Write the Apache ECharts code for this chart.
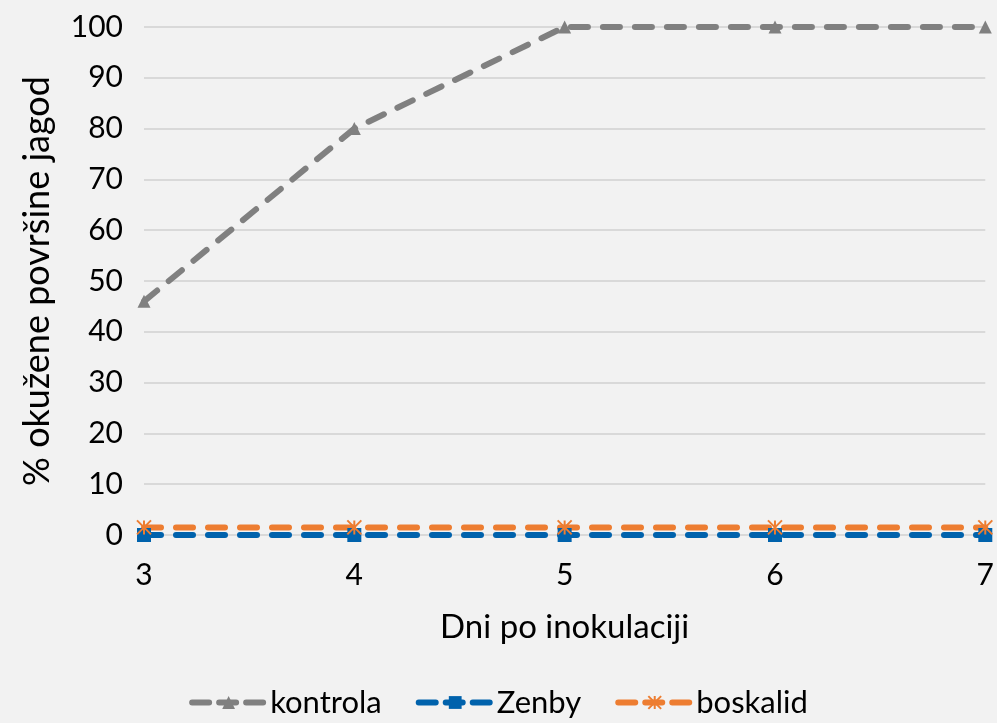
<!DOCTYPE html>
<html><head><meta charset="utf-8">
<script src="https://cdn.jsdelivr.net/npm/echarts@6/dist/echarts.min.js"></script>
<style>html,body{margin:0;padding:0;background:#f2f2f2}#c{width:997px;height:723px}</style>
</head><body><div id="c"></div>
<script>
const days = ['3','4','5','6','7'];
const kontrola = [46, 80, 100, 100, 100];
const zenby = [0, 0, 0, 0, 0];
const boskalid = [1.5, 1.5, 1.5, 1.5, 1.5];
const yTicks = {min: 0, max: 100, interval: 10};

const chart = echarts.init(document.getElementById('c'));
const font = 'Lato, "Open Sans", sans-serif';
function ser(name, data, color, symbol, size, extra) {
  return Object.assign({
    name, type: 'line', data, symbol, symbolSize: size,
    lineStyle: {color, width: 6, type: [17, 15], cap: 'round'},
    itemStyle: {color},
    emphasis: {disabled: true}
  }, extra || {});
}
chart.setOption({
  backgroundColor: '#f2f2f2',
  animation: false,
  textStyle: {fontFamily: font},
  grid: {left: 144, right: 10, top: 27, bottom: 188},
  xAxis: {
    type: 'category', data: days, boundaryGap: false,
    name: 'Dni po inokulaciji', nameLocation: 'middle', nameGap: 92,
    nameTextStyle: {fontSize: 33, color: '#000', fontFamily: font, verticalAlign: 'middle'},
    axisLine: {show: true, lineStyle: {color: '#d9d9d9', width: 2}},
    axisTick: {show: false},
    axisLabel: {fontSize: 30, color: '#000', margin: 25, fontFamily: font}
  },
  yAxis: {
    type: 'value', min: yTicks.min, max: yTicks.max, interval: yTicks.interval,
    name: '% okužene površine jagod', nameLocation: 'middle', nameGap: 107,
    nameTextStyle: {fontSize: 36, color: '#000', fontFamily: font, verticalAlign: 'middle'},
    axisLine: {show: false}, axisTick: {show: false},
    axisLabel: {fontSize: 30, color: '#000', margin: 21, fontFamily: font},
    splitLine: {lineStyle: {color: '#d9d9d9', width: 2}}
  },
  legend: {
    bottom: 0, left: 'center', itemWidth: 73, itemHeight: 16, itemGap: 34,
    lineStyle: {width: 6, type: [17, 10], cap: 'round'},
    textStyle: {fontSize: 31, color: '#000', fontFamily: font},
    data: ['kontrola', 'Zenby', 'boskalid']
  },
  series: [
    ser('kontrola', kontrola, '#808080', 'triangle', 13),
    ser('Zenby', zenby, '#0062ac', 'rect', 14),
    ser('boskalid', boskalid, '#ed7d31', 'path://M0,0L10,10M10,0L0,10M5,0L5,10', 14,
      {itemStyle: {color: '#ed7d31', borderColor: '#ed7d31', borderWidth: 2}})
  ]
});
</script></body></html>
